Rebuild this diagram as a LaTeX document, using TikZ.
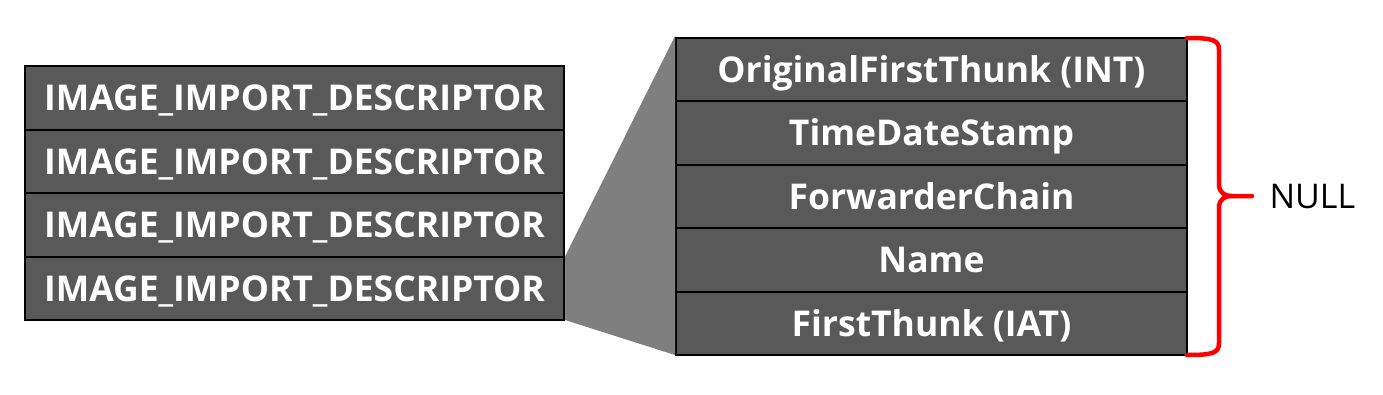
\documentclass[tikz,border=0pt]{standalone}
\usepackage{fontspec}
\setmainfont{Open Sans}
\usepackage{xcolor}
\usetikzlibrary{positioning,calc}
\definecolor{rowfill}{HTML}{595959}
\definecolor{zoomgray}{HTML}{7F7F7F}
\definecolor{bracered}{HTML}{FF0000}

\tikzset{
  rowbox/.style={draw=black,line width=2pt,fill=rowfill,text=white,
    font=\fontsize{35.5}{40}\selectfont\bfseries,outer sep=0pt,inner sep=0pt,
    text height=25.5pt,text depth=0pt},
  descrow/.style={rowbox,minimum width=539pt,minimum height=63.5pt},
  fieldrow/.style={rowbox,minimum width=511pt,minimum height=63.4pt},
}

\begin{document}
\begin{tikzpicture}[x=1pt,y=-1pt]
  \useasboundingbox (0,0) rectangle (1383,394);
  % descriptor array
  \node[descrow] (desc1) at (294.5,97.75) {IMAGE\_IMPORT\_DESCRIPTOR};
  \node[descrow,below=0pt of desc1] (desc2) {IMAGE\_IMPORT\_DESCRIPTOR};
  \node[descrow,below=0pt of desc2] (desc3) {IMAGE\_IMPORT\_DESCRIPTOR};
  \node[descrow,below=0pt of desc3] (desc4) {IMAGE\_IMPORT\_DESCRIPTOR};
  % structure fields
  \node[fieldrow] (field1) at (931.5,69.7) {OriginalFirstThunk (INT)};
  \node[fieldrow,below=0pt of field1] (field2) {TimeDateStamp};
  \node[fieldrow,below=0pt of field2] (field3) {ForwarderChain};
  \node[fieldrow,below=0pt of field3] (field4) {Name};
  \node[fieldrow,below=0pt of field4] (field5) {FirstThunk (IAT)};
  % zoom wedge
  \fill[zoomgray] ($(desc4.north east)+(1,0)$) -- ($(field1.north west)+(-1,-2)$)
    -- ($(field5.south west)+(-1,0)$) -- ($(desc4.south east)+(1,0)$) -- cycle;
  % brace
  \coordinate (bracetop) at (field1.north east);
  \coordinate (bracebot) at (field5.south east);
  \coordinate (bracetip) at ($(field3.east)+(65,-0.5)$);
  \draw[bracered,line width=4.5pt,line cap=round,line join=round]
    (bracetop) .. controls +(26,0) and +(0,-10) .. ++(32,12)
    -- ($(bracetip)+(-33,-12)$) .. controls +(0,10) and +(-6,0) .. ($(bracetip)+(-20,0)$)
    -- (bracetip);
  \draw[bracered,line width=4.5pt,line cap=round,line join=round]
    (bracebot) .. controls +(26,0) and +(0,10) .. ++(32,-12)
    -- ($(bracetip)+(-33,12)$) .. controls +(0,-10) and +(-6,0) .. ($(bracetip)+(-20,0)$);
  \node[font=\fontsize{34}{40}\selectfont,anchor=west,text height=24pt,text depth=0pt]
    (nulllabel) at ($(bracetip)+(14,0)$) {NULL};
\end{tikzpicture}
\end{document}
